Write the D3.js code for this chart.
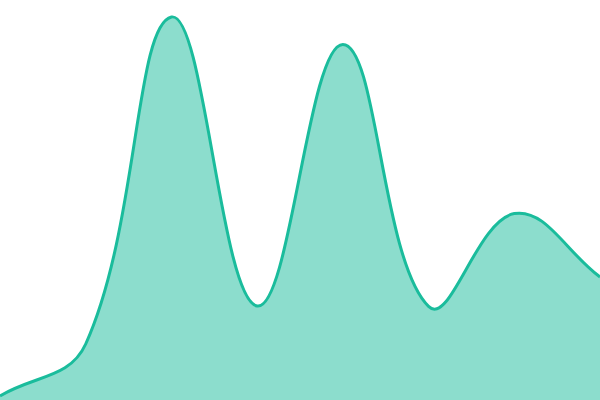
<!DOCTYPE html>
<html>
<head>
<meta charset="utf-8">
<script src="https://cdn.jsdelivr.net/npm/d3@7"></script>
<style>
  body { margin: 0; background: #fff; }
  svg { display: block; }
</style>
</head>
<body>
<svg id="chart" width="600" height="400"></svg>
<script>
let steps = [0, 1, 2, 3, 4, 5, 6, 7];
let values = [1, 14, 95.75, 23.5, 88.9, 23.4, 46.6, 30.75];

let width = 600,
    height = 400;

let tension = 0.4;

// spline that weights each tangent by the length of its neighbouring chords
function tensionCurve(context) {
    let line, pts;
    return {
        areaStart() { line = 0; },
        areaEnd() { line = NaN; },
        lineStart() { pts = []; },
        point(x, y) { pts.push([+x, +y]); },
        lineEnd() {
            let n = pts.length;
            if (n) {
                line ? context.lineTo(pts[0][0], pts[0][1]) : context.moveTo(pts[0][0], pts[0][1]);
            }
            if (n === 2) {
                context.lineTo(pts[1][0], pts[1][1]);
            } else if (n > 2) {
                let cps = pts.map((p, i) => {
                    let prev = pts[Math.max(i - 1, 0)],
                        next = pts[Math.min(i + 1, n - 1)];
                    let d01 = Math.hypot(p[0] - prev[0], p[1] - prev[1]),
                        d12 = Math.hypot(next[0] - p[0], next[1] - p[1]);
                    let s01 = d01 / (d01 + d12) || 0,
                        s12 = d12 / (d01 + d12) || 0;
                    let dx = next[0] - prev[0],
                        dy = next[1] - prev[1];
                    return {
                        a: [p[0] - tension * s01 * dx, p[1] - tension * s01 * dy],
                        b: [p[0] + tension * s12 * dx, p[1] + tension * s12 * dy]
                    };
                });
                for (let i = 1; i < n; i++) {
                    context.bezierCurveTo(
                        cps[i - 1].b[0], cps[i - 1].b[1],
                        cps[i].a[0], cps[i].a[1],
                        pts[i][0], pts[i][1]);
                }
            }
            if (line || (line !== 0 && n === 1)) context.closePath();
            line = 1 - line;
        }
    };
}

let svg = d3.select('#chart');

let x = d3.scaleLinear()
    .domain(d3.extent(steps))
    .range([0, width]);

let y = d3.scaleLinear()
    .domain([0, 100])
    .range([height, 0]);

let points = steps.map((s, i) => [s, values[i]]);

let area = d3.area()
    .curve(tensionCurve)
    .x(d => x(d[0]))
    .y0(height)
    .y1(d => y(d[1]));

let line = d3.line()
    .curve(tensionCurve)
    .x(d => x(d[0]))
    .y(d => y(d[1]));

svg.append('path')
    .datum(points)
    .attr('d', area)
    .attr('fill', '#1abc9c')
    .attr('fill-opacity', 0.5);

svg.append('path')
    .datum(points)
    .attr('d', line)
    .attr('fill', 'none')
    .attr('stroke', '#1abc9c')
    .attr('stroke-width', 3);
</script>
</body>
</html>
